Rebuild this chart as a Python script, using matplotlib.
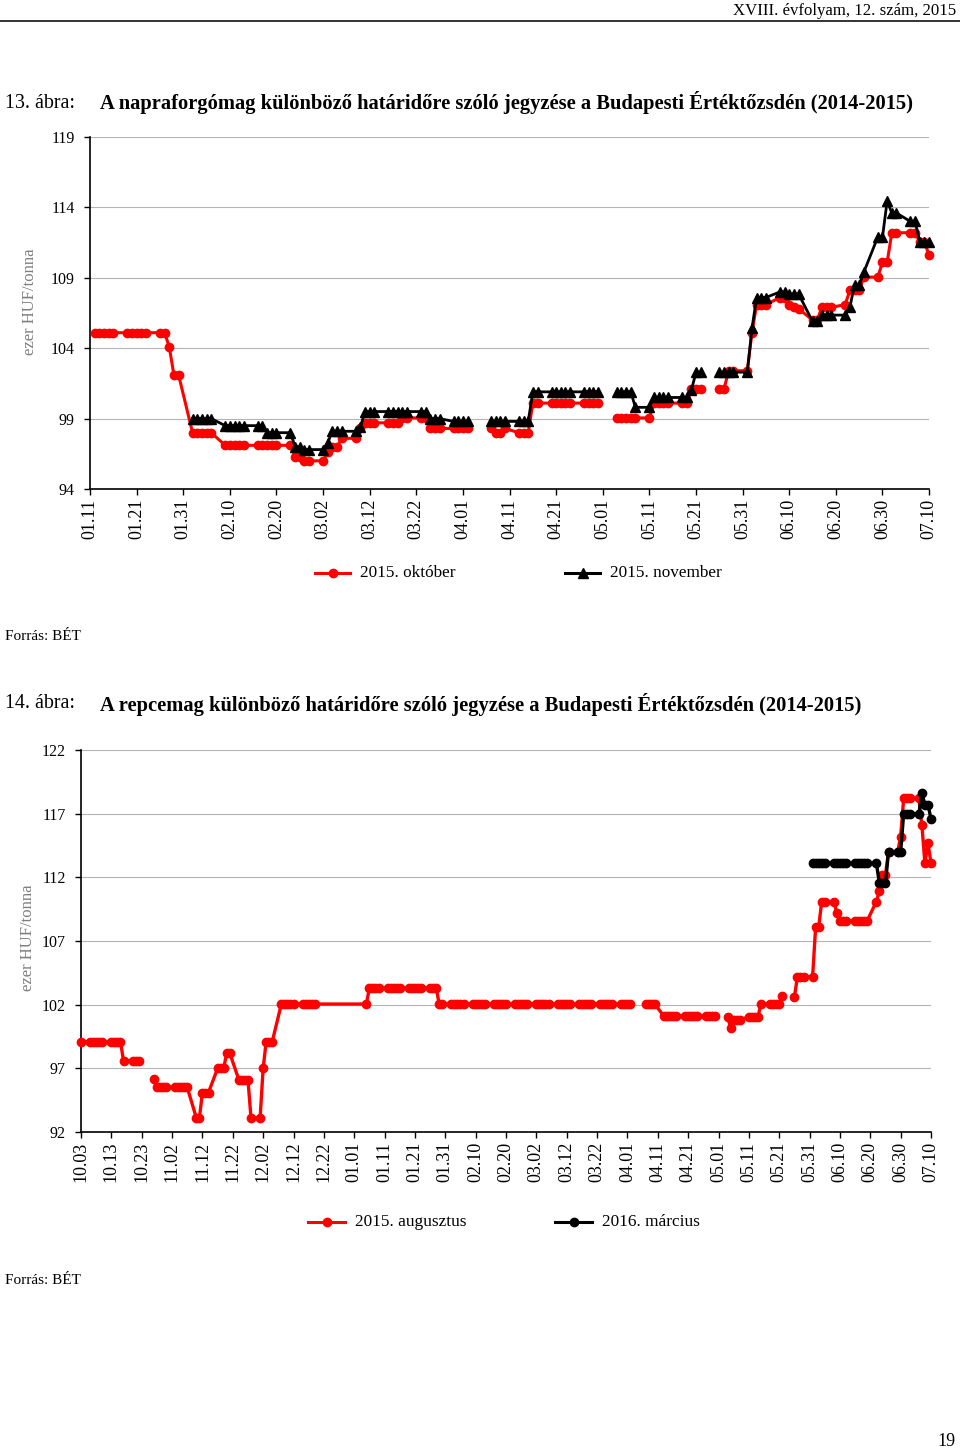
import matplotlib
matplotlib.use("Agg")
import matplotlib.pyplot as plt
import matplotlib.dates as mdates
from matplotlib.lines import Line2D
import numpy as np
from datetime import datetime

plt.rcParams['font.family'] = ['Liberation Serif', 'DejaVu Serif']

C_RED = "#ff0000"
C_BLACK = "#000000"
C_GRID = "#b4b4b4"
C_YLAB = "#7f7f7f"

W, H = 960, 1451

# ---------------- 13. ábra: napraforgómag ----------------
sun_oct = [
    ("01.12", 105.1), ("01.13", 105.1), ("01.14", 105.1), ("01.15", 105.1), ("01.16", 105.1),
    ("01.19", 105.1), ("01.20", 105.1), ("01.21", 105.1), ("01.22", 105.1), ("01.23", 105.1),
    ("01.26", 105.1), ("01.27", 105.1), ("01.28", 104.1), ("01.29", 102.1), ("01.30", 102.1),
    ("02.02", 98.0), ("02.03", 98.0), ("02.04", 98.0), ("02.05", 98.0), ("02.06", 98.0),
    ("02.09", 97.1), ("02.10", 97.1), ("02.11", 97.1), ("02.12", 97.1), ("02.13", 97.1),
    ("02.16", 97.1), ("02.17", 97.1), ("02.18", 97.1), ("02.19", 97.1), ("02.20", 97.1),
    ("02.23", 97.1), ("02.24", 96.3), ("02.25", 96.3), ("02.26", 96.0), ("02.27", 96.0),
    ("03.02", 96.0), ("03.03", 96.6), ("03.04", 97.0), ("03.05", 97.0), ("03.06", 97.6),
    ("03.09", 97.6), ("03.10", 98.3), ("03.11", 98.7), ("03.12", 98.7), ("03.13", 98.7),
    ("03.16", 98.7), ("03.17", 98.7), ("03.18", 98.7), ("03.19", 99.05), ("03.20", 99.05),
    ("03.23", 99.05), ("03.24", 99.05), ("03.25", 98.3), ("03.26", 98.3), ("03.27", 98.3),
    ("03.30", 98.3), ("03.31", 98.3), ("04.01", 98.3), ("04.02", 98.3), ("04.03", None),
    ("04.06", None), ("04.07", 98.3), ("04.08", 98.0), ("04.09", 98.0), ("04.10", 98.3),
    ("04.13", 98.0), ("04.14", 98.0), ("04.15", 98.0), ("04.16", 100.1), ("04.17", 100.1),
    ("04.20", 100.1), ("04.21", 100.1), ("04.22", 100.1), ("04.23", 100.1), ("04.24", 100.1),
    ("04.27", 100.1), ("04.28", 100.1), ("04.29", 100.1), ("04.30", 100.1), ("05.01", None),
    ("05.04", 99.05), ("05.05", 99.05), ("05.06", 99.05), ("05.07", 99.05), ("05.08", 99.05),
    ("05.11", 99.05), ("05.12", 100.1), ("05.13", 100.1), ("05.14", 100.1), ("05.15", 100.1),
    ("05.18", 100.1), ("05.19", 100.1), ("05.20", 101.1), ("05.21", 101.1), ("05.22", 101.1),
    ("05.25", None), ("05.26", 101.1), ("05.27", 101.1), ("05.28", 102.4), ("05.29", 102.4),
    ("06.01", 102.4), ("06.02", 105.1), ("06.03", 107.1), ("06.04", 107.1), ("06.05", 107.1),
    ("06.08", 107.6), ("06.09", 107.6), ("06.10", 107.1), ("06.11", 106.9), ("06.12", 106.8),
    ("06.15", 106.0), ("06.16", 106.0), ("06.17", 106.9), ("06.18", 106.9), ("06.19", 106.9),
    ("06.22", 107.1), ("06.23", 108.1), ("06.24", 108.1), ("06.25", 108.1), ("06.26", 109.05),
    ("06.29", 109.05), ("06.30", 110.1), ("07.01", 110.1), ("07.02", 112.2), ("07.03", 112.2),
    ("07.06", 112.2), ("07.07", 112.2), ("07.08", 111.55), ("07.09", 111.55), ("07.10", 110.6),
]

sun_nov = [
    ("02.02", 99.0), ("02.03", 99.0), ("02.04", 99.0), ("02.05", 99.0), ("02.06", 99.0),
    ("02.09", 98.5), ("02.10", 98.5), ("02.11", 98.5), ("02.12", 98.5), ("02.13", 98.5),
    ("02.16", 98.5), ("02.17", 98.5), ("02.18", 98.0), ("02.19", 98.0), ("02.20", 98.0),
    ("02.23", 98.0), ("02.24", 97.0), ("02.25", 97.0), ("02.26", 96.8), ("02.27", 96.8),
    ("03.02", 96.8), ("03.03", 97.3), ("03.04", 98.1), ("03.05", 98.1), ("03.06", 98.1),
    ("03.09", 98.1), ("03.10", 98.4), ("03.11", 99.5), ("03.12", 99.5), ("03.13", 99.5),
    ("03.16", 99.5), ("03.17", 99.5), ("03.18", 99.5), ("03.19", 99.5), ("03.20", 99.5),
    ("03.23", 99.5), ("03.24", 99.5), ("03.25", 99.0), ("03.26", 99.0), ("03.27", 99.0),
    ("03.30", 98.8), ("03.31", 98.8), ("04.01", 98.8), ("04.02", 98.8), ("04.03", None),
    ("04.06", None), ("04.07", 98.8), ("04.08", 98.8), ("04.09", 98.8), ("04.10", 98.8),
    ("04.13", 98.8), ("04.14", 98.8), ("04.15", 98.8), ("04.16", 100.9), ("04.17", 100.9),
    ("04.20", 100.9), ("04.21", 100.9), ("04.22", 100.9), ("04.23", 100.9), ("04.24", 100.9),
    ("04.27", 100.9), ("04.28", 100.9), ("04.29", 100.9), ("04.30", 100.9), ("05.01", None),
    ("05.04", 100.9), ("05.05", 100.9), ("05.06", 100.9), ("05.07", 100.9), ("05.08", 99.8),
    ("05.11", 99.8), ("05.12", 100.5), ("05.13", 100.5), ("05.14", 100.5), ("05.15", 100.5),
    ("05.18", 100.5), ("05.19", 100.5), ("05.20", 101.0), ("05.21", 102.3), ("05.22", 102.3),
    ("05.25", None), ("05.26", 102.3), ("05.27", 102.3), ("05.28", 102.3), ("05.29", 102.3),
    ("06.01", 102.3), ("06.02", 105.4), ("06.03", 107.6), ("06.04", 107.6), ("06.05", 107.6),
    ("06.08", 108.0), ("06.09", 108.0), ("06.10", 107.85), ("06.11", 107.85), ("06.12", 107.85),
    ("06.15", 105.9), ("06.16", 105.9), ("06.17", 106.35), ("06.18", 106.35), ("06.19", 106.35),
    ("06.22", 106.35), ("06.23", 106.9), ("06.24", 108.5), ("06.25", 108.5), ("06.26", 109.4),
    ("06.29", 111.9), ("06.30", 111.9), ("07.01", 114.45), ("07.02", 113.6), ("07.03", 113.6),
    ("07.06", 113.0), ("07.07", 113.0), ("07.08", 111.55), ("07.09", 111.55), ("07.10", 111.55),
]

sun_xticks = ["01.11", "01.21", "01.31", "02.10", "02.20", "03.02", "03.12", "03.22",
              "04.01", "04.11", "04.21", "05.01", "05.11", "05.21", "05.31", "06.10",
              "06.20", "06.30", "07.10"]
sun_yticks = [94, 99, 104, 109, 114, 119]

# ---------------- 14. ábra: repcemag ----------------
rape_aug = [
    ("10.03", 99.1),
    ("10.06", 99.1), ("10.07", 99.1), ("10.08", 99.1), ("10.09", 99.1), ("10.10", 99.1),
    ("10.13", 99.1), ("10.14", 99.1), ("10.15", 99.1), ("10.16", 99.1), ("10.17", 97.6),
    ("10.20", 97.6), ("10.21", 97.6), ("10.22", 97.6), ("10.23", None), ("10.24", None),
    ("10.27", 96.2), ("10.28", 95.5), ("10.29", 95.5), ("10.30", 95.5), ("10.31", 95.5),
    ("11.03", 95.5), ("11.04", 95.5), ("11.05", 95.5), ("11.06", 95.5), ("11.07", 95.5),
    ("11.10", 93.1), ("11.11", 93.1), ("11.12", 95.1), ("11.13", 95.1), ("11.14", 95.1),
    ("11.17", 97.0), ("11.18", 97.0), ("11.19", 97.0), ("11.20", 98.2), ("11.21", 98.2),
    ("11.24", 96.1), ("11.25", 96.1), ("11.26", 96.1), ("11.27", 96.1), ("11.28", 93.1),
    ("12.01", 93.1), ("12.02", 97.0), ("12.03", 99.1), ("12.04", 99.1), ("12.05", 99.1),
    ("12.08", 102.05), ("12.09", 102.05), ("12.10", 102.05), ("12.11", 102.05), ("12.12", 102.05),
    ("12.15", 102.05), ("12.16", 102.05), ("12.17", 102.05), ("12.18", 102.05), ("12.19", 102.05),
    ("01.05", 102.05), ("01.06", 103.3), ("01.07", 103.3), ("01.08", 103.3), ("01.09", 103.3),
    ("01.12", 103.3), ("01.13", 103.3), ("01.14", 103.3), ("01.15", 103.3), ("01.16", 103.3),
    ("01.19", 103.3), ("01.20", 103.3), ("01.21", 103.3), ("01.22", 103.3), ("01.23", 103.3),
    ("01.26", 103.3), ("01.27", 103.3), ("01.28", 103.3), ("01.29", 102.05), ("01.30", 102.05),
    ("02.02", 102.05), ("02.03", 102.05), ("02.04", 102.05), ("02.05", 102.05), ("02.06", 102.05),
    ("02.09", 102.05), ("02.10", 102.05), ("02.11", 102.05), ("02.12", 102.05), ("02.13", 102.05),
    ("02.16", 102.05), ("02.17", 102.05), ("02.18", 102.05), ("02.19", 102.05), ("02.20", 102.05),
    ("02.23", 102.05), ("02.24", 102.05), ("02.25", 102.05), ("02.26", 102.05), ("02.27", 102.05),
    ("03.02", 102.05), ("03.03", 102.05), ("03.04", 102.05), ("03.05", 102.05), ("03.06", 102.05),
    ("03.09", 102.05), ("03.10", 102.05), ("03.11", 102.05), ("03.12", 102.05), ("03.13", 102.05),
    ("03.16", 102.05), ("03.17", 102.05), ("03.18", 102.05), ("03.19", 102.05), ("03.20", 102.05),
    ("03.23", 102.05), ("03.24", 102.05), ("03.25", 102.05), ("03.26", 102.05), ("03.27", 102.05),
    ("03.30", 102.05), ("03.31", 102.05), ("04.01", 102.05), ("04.02", 102.05), ("04.03", None),
    ("04.06", None), ("04.07", 102.05), ("04.08", 102.05), ("04.09", 102.05), ("04.10", 102.05),
    ("04.13", 101.1), ("04.14", 101.1), ("04.15", 101.1), ("04.16", 101.1), ("04.17", 101.1),
    ("04.20", 101.1), ("04.21", 101.1), ("04.22", 101.1), ("04.23", 101.1), ("04.24", 101.1),
    ("04.27", 101.1), ("04.28", 101.1), ("04.29", 101.1), ("04.30", 101.1), ("05.01", None),
    ("05.04", 101.05), ("05.05", 100.2), ("05.06", 100.8), ("05.07", 100.8), ("05.08", 100.8),
    ("05.11", 101.05), ("05.12", 101.05), ("05.13", 101.05), ("05.14", 101.05), ("05.15", 102.05),
    ("05.18", 102.05), ("05.19", 102.05), ("05.20", 102.05), ("05.21", 102.05), ("05.22", 102.7),
    ("05.25", None), ("05.26", 102.6), ("05.27", 104.2), ("05.28", 104.2), ("05.29", 104.2),
    ("06.01", 104.2), ("06.02", 108.1), ("06.03", 108.1), ("06.04", 110.1), ("06.05", 110.1),
    ("06.08", 110.1), ("06.09", 109.2), ("06.10", 108.6), ("06.11", 108.6), ("06.12", 108.6),
    ("06.15", 108.6), ("06.16", 108.6), ("06.17", 108.6), ("06.18", 108.6), ("06.19", 108.6),
    ("06.22", 110.1), ("06.23", 110.9), ("06.24", 112.2), ("06.25", 112.2), ("06.26", 114.0),
    ("06.29", 114.0), ("06.30", 115.2), ("07.01", 118.2), ("07.02", 118.2), ("07.03", 118.2),
    ("07.06", 118.2), ("07.07", 116.1), ("07.08", 113.1), ("07.09", 114.7), ("07.10", 113.1),
]

rape_mar = [
    ("06.01", 113.1), ("06.02", 113.1), ("06.03", 113.1), ("06.04", 113.1), ("06.05", 113.1),
    ("06.08", 113.1), ("06.09", 113.1), ("06.10", 113.1), ("06.11", 113.1), ("06.12", 113.1),
    ("06.15", 113.1), ("06.16", 113.1), ("06.17", 113.1), ("06.18", 113.1), ("06.19", 113.1),
    ("06.22", 113.1), ("06.23", 111.55), ("06.24", 111.55), ("06.25", 111.55), ("06.26", 114.0),
    ("06.29", 114.0), ("06.30", 114.0), ("07.01", 117.0), ("07.02", 117.0), ("07.03", 117.0),
    ("07.06", 117.0), ("07.07", 118.6), ("07.08", 117.7), ("07.09", 117.7), ("07.10", 116.6),
]

rape_xticks = ["10.03", "10.13", "10.23", "11.02", "11.12", "11.22", "12.02", "12.12",
               "12.22", "01.01", "01.11", "01.21", "01.31", "02.10", "02.20", "03.02",
               "03.12", "03.22", "04.01", "04.11", "04.21", "05.01", "05.11", "05.21",
               "05.31", "06.10", "06.20", "06.30", "07.10"]
rape_yticks = [92, 97, 102, 107, 112, 117, 122]


def to_num(md):
    m, d = int(md[:2]), int(md[3:])
    year = 2014 if m >= 10 else 2015
    return mdates.date2num(datetime(year, m, d))


def split(pairs):
    x = np.array([to_num(d) for d, _ in pairs])
    y = np.array([np.nan if v is None else v for _, v in pairs], dtype=float)
    return x, y


def fx(px):
    return px / W


def fy(py):
    return 1 - py / H


fig = plt.figure(figsize=(W / 100, H / 100), dpi=100, facecolor='white')


def style_axes(ax, xticks, yticks):
    ticks = [to_num(t) for t in xticks]
    ax.set_xlim(ticks[0], ticks[-1])
    ax.set_ylim(yticks[0], yticks[-1])
    ax.set_xticks(ticks)
    ax.set_xticklabels(xticks, rotation=90, fontsize=13)
    ax.set_yticks(yticks)
    ax.set_yticklabels([str(v) for v in yticks], fontsize=11.5)
    ax.tick_params(axis='y', direction='out', length=4, width=1, pad=7)
    ax.tick_params(axis='x', direction='out', length=4, width=1, pad=3)
    ax.yaxis.grid(True, color=C_GRID, linewidth=0.8)
    ax.set_axisbelow(True)
    for s in ['top', 'right']:
        ax.spines[s].set_visible(False)
    for s in ['left', 'bottom']:
        ax.spines[s].set_color('black')
        ax.spines[s].set_linewidth(1.2)


# --- chart 13 ---
ax1 = fig.add_axes([fx(90), fy(489), fx(929.1) - fx(90), (489 - 137) / H])
style_axes(ax1, sun_xticks, sun_yticks)
x, y = split(sun_oct)
ax1.plot(x, y, color=C_RED, lw=2.2, marker='o', ms=6, clip_on=False, zorder=3)
x, y = split(sun_nov)
ax1.plot(x, y, color=C_BLACK, lw=2.0, marker='^', ms=7, clip_on=False, zorder=4)

# --- chart 14 ---
ax2 = fig.add_axes([fx(81), fy(1132), fx(931) - fx(81), (1132 - 750) / H])
style_axes(ax2, rape_xticks, rape_yticks)
x, y = split(rape_aug)
ax2.plot(x, y, color=C_RED, lw=2.4, marker='o', ms=6, clip_on=False, zorder=3)
x, y = split(rape_mar)
ax2.plot(x, y, color=C_BLACK, lw=2.4, marker='o', ms=6, clip_on=False, zorder=4)

# --- texts ---
fig.text(fx(956), fy(11), "XVIII. évfolyam, 12. szám, 2015", ha='right', va='center', fontsize=12.1)
fig.add_artist(Line2D([0, 1], [fy(21), fy(21)], transform=fig.transFigure, color='#333333', lw=1.4))

fig.text(fx(5), fy(103), "13. ábra:", ha='left', va='center', fontsize=14.4)
fig.text(fx(100), fy(103), "A napraforgómag különböző határidőre szóló jegyzése a Budapesti Értéktőzsdén (2014-2015)",
         ha='left', va='center', fontsize=14.8, fontweight='bold')
fig.text(fx(5), fy(704), "14. ábra:", ha='left', va='center', fontsize=14.4)
fig.text(fx(100), fy(704), "A repcemag különböző határidőre szóló jegyzése a Budapesti Értéktőzsdén (2014-2015)",
         ha='left', va='center', fontsize=14.8, fontweight='bold')

fig.text(fx(30), fy(302), "ezer HUF/tonna", rotation=90, ha='center', va='center', fontsize=12, color=C_YLAB)
fig.text(fx(28), fy(938), "ezer HUF/tonna", rotation=90, ha='center', va='center', fontsize=12, color=C_YLAB)

fig.text(fx(5), fy(637), "Forrás: BÉT", ha='left', va='center', fontsize=11)
fig.text(fx(5), fy(1281), "Forrás: BÉT", ha='left', va='center', fontsize=11)
fig.text(fx(956), fy(1442), "19", ha='right', va='center', fontsize=13)


def legend_item(x0, x1, y0, color, marker, ms, label):
    fig.add_artist(Line2D([fx(x0), fx(x1)], [fy(y0), fy(y0)], transform=fig.transFigure, color=color, lw=2.2))
    fig.add_artist(Line2D([fx((x0 + x1) / 2)], [fy(y0)], transform=fig.transFigure, color=color,
                          marker=marker, ms=ms, lw=0))
    fig.text(fx(x1 + 10), fy(y0), label, ha='left', va='center', fontsize=12.4)


legend_item(315, 350, 573, C_RED, 'o', 6, "2015. október")
legend_item(565, 600, 573, C_BLACK, '^', 7, "2015. november")
legend_item(308, 345, 1222, C_RED, 'o', 6, "2015. augusztus")
legend_item(555, 592, 1222, C_BLACK, 'o', 6, "2016. március")

fig.savefig("out.png", dpi=100, facecolor='white')
